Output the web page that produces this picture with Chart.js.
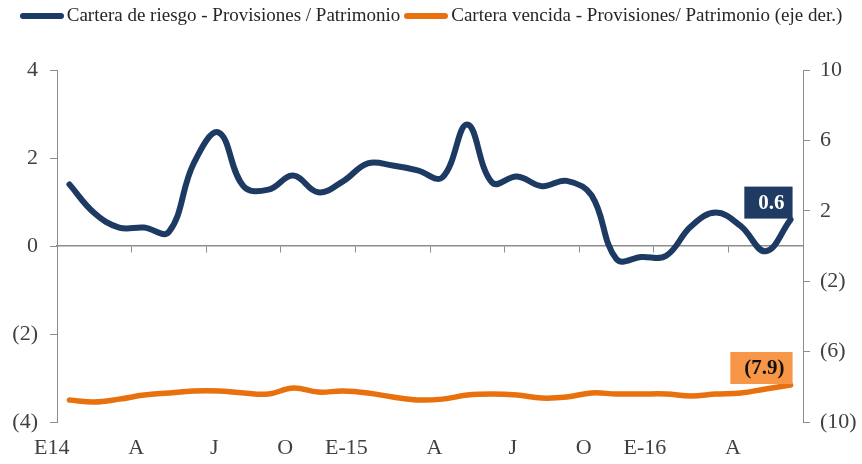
<!DOCTYPE html>
<html>
<head>
<meta charset="utf-8">
<script src="https://cdn.jsdelivr.net/npm/chart.js@4.4.1/dist/chart.umd.min.js"></script>
<style>
    body { margin: 0; background: #fff; }
    #wrap { position: relative; width: 862px; height: 464px; }
    #chart { position: absolute; left: 0; top: 0; }
    .legend { position: absolute; top: 4px; left: 0; width: 862px; text-align: center;
              font: 19px "Liberation Serif", serif; color: #262626; white-space: nowrap; }
    .legend-item { display: inline-block; margin: 0 2px; }
    .legend-line { display: inline-block; width: 44px; height: 6px; border-radius: 3px;
                   vertical-align: middle; margin-right: 3px; position: relative; top: -1px; }
</style>
</head>
<body>
<div id="wrap">
    <canvas id="chart" width="862" height="464"></canvas>
    <div class="legend" id="legend"></div>
</div>
<script>

// monthly categories, Jan 2014 - Jun 2016
const months = [
    'Ene-14', 'Feb-14', 'Mar-14', 'Abr-14', 'May-14', 'Jun-14', 'Jul-14', 'Ago-14', 'Sep-14', 'Oct-14', 'Nov-14', 'Dic-14',
    'Ene-15', 'Feb-15', 'Mar-15', 'Abr-15', 'May-15', 'Jun-15', 'Jul-15', 'Ago-15', 'Sep-15', 'Oct-15', 'Nov-15', 'Dic-15',
    'Ene-16', 'Feb-16', 'Mar-16', 'Abr-16', 'May-16', 'Jun-16'
];

// shown every 3rd month
const tickLabels = ['E14', 'A', 'J', 'O', 'E-15', 'A', 'J', 'O', 'E-16', 'A'];

const seriesNames = [
    'Cartera de riesgo - Provisiones / Patrimonio',
    'Cartera vencida - Provisiones/ Patrimonio (eje der.)'
];

// left axis
const carteraRiesgo = [
    1.40, 0.75, 0.42, 0.42, 0.32, 1.88, 2.58, 1.36, 1.28, 1.60,
    1.22, 1.47, 1.88, 1.83, 1.72, 1.56, 2.76, 1.44, 1.58, 1.36,
    1.48, 1.15, -0.30, -0.25, -0.22, 0.45, 0.76, 0.45, -0.12, 0.60
];

// right axis
const carteraVencida = [
    -8.75, -8.86, -8.70, -8.47, -8.35, -8.24, -8.24, -8.35, -8.41, -8.07,
    -8.30, -8.24, -8.35, -8.58, -8.75, -8.70, -8.47, -8.41, -8.47, -8.64,
    -8.58, -8.35, -8.41, -8.41, -8.41, -8.52, -8.41, -8.35, -8.12, -7.90
];

const lineColors = ['#1d3a62', '#e8710e'];
const boxColors = ['#1f3b63', '#f79646'];
const boxTextColors = ['#ffffff', '#111111'];

const axisColor = '#8c8c8c';
const textColor = '#404040';

// numbers like excel: negatives in brackets
function fmt(v, digits) {
    const s = Math.abs(v).toFixed(digits);
    return v < 0 ? '(' + s + ')' : s;
}

// legend as plain html
const elLegend = document.getElementById('legend');
seriesNames.forEach((name, i) => {
    const elItem = document.createElement('span');
    elItem.className = 'legend-item';
    const elLine = document.createElement('span');
    elLine.className = 'legend-line';
    elLine.style.backgroundColor = lineColors[i];
    elItem.appendChild(elLine);
    elItem.appendChild(document.createTextNode(name));
    elLegend.appendChild(elItem);
});

// boxes with the last value of each series
const lastValueLabels = {
    id: 'lastValueLabels',
    afterDatasetsDraw(chart) {
        const ctx = chart.ctx;
        chart.data.datasets.forEach((ds, i) => {
            const meta = chart.getDatasetMeta(i);
            const pt = meta.data[meta.data.length - 1];
            const text = fmt(ds.data[ds.data.length - 1], 1);
            ctx.save();
            ctx.font = 'bold 21px "Liberation Serif"';
            const w = ctx.measureText(text).width + 22;
            const h = 32;
            const x = pt.x + 2 - w;
            const y = pt.y - 1 - h;
            ctx.fillStyle = boxColors[i];
            ctx.fillRect(x, y, w, h);
            ctx.fillStyle = boxTextColors[i];
            ctx.textAlign = 'right';
            ctx.textBaseline = 'middle';
            ctx.fillText(text, x + w - 8, y + h / 2 + 1);
            ctx.restore();
        });
    }
};

Chart.defaults.font.family = '"Liberation Serif", serif';
Chart.defaults.color = textColor;

new Chart(document.getElementById('chart'), {
    type: 'line',
    data: {
        labels: months,
        datasets: [{
            label: seriesNames[0],
            data: carteraRiesgo,
            yAxisID: 'y',
            borderColor: lineColors[0],
            borderWidth: 6,
            tension: 0.4,
            pointRadius: 0,
            borderCapStyle: 'round'
        }, {
            label: seriesNames[1],
            data: carteraVencida,
            yAxisID: 'y2',
            borderColor: lineColors[1],
            borderWidth: 5.5,
            tension: 0.4,
            pointRadius: 0,
            borderCapStyle: 'round'
        }]
    },
    plugins: [lastValueLabels],
    options: {
        responsive: false,
        animation: false,
        layout: { padding: { top: 70, left: 0, right: 0, bottom: 0 } },
        plugins: {
            legend: { display: false },
            tooltip: { enabled: false }
        },
        scales: {
            x: {
                offset: true,
                grid: { display: false, drawTicks: false },
                border: { display: false },
                ticks: {
                    autoSkip: false,
                    maxRotation: 0,
                    align: 'end',
                    padding: 13,
                    font: { size: 22 },
                    callback: (val, index) => index % 3 === 0 ? tickLabels[index / 3] : ''
                },
                afterFit: (scale) => { scale.height = 42; }
            },
            // zero line with quarter tick marks
            x2: {
                type: 'category',
                position: { y: 0 },
                offset: true,
                grid: {
                    offset: true,
                    drawOnChartArea: false,
                    tickLength: 6,
                    color: (c) => c.index % 3 === 0 ? axisColor : 'rgba(0,0,0,0)'
                },
                border: { color: axisColor, width: 1.5 },
                ticks: { display: false }
            },
            y: {
                position: 'left',
                min: -4,
                max: 4,
                ticks: {
                    stepSize: 2,
                    padding: 12,
                    font: { size: 22 },
                    callback: (v) => fmt(v, 0)
                },
                grid: { drawOnChartArea: false, tickLength: 7, color: axisColor },
                border: { color: axisColor },
                afterFit: (scale) => { scale.width = 57; }
            },
            y2: {
                position: 'right',
                min: -10,
                max: 10,
                ticks: {
                    stepSize: 4,
                    padding: 10,
                    font: { size: 22 },
                    callback: (v) => fmt(v, 0)
                },
                grid: { drawOnChartArea: false, tickLength: 7, color: axisColor },
                border: { color: axisColor },
                afterFit: (scale) => { scale.width = 59; }
            }
        }
    }
});
</script>
</body>
</html>
